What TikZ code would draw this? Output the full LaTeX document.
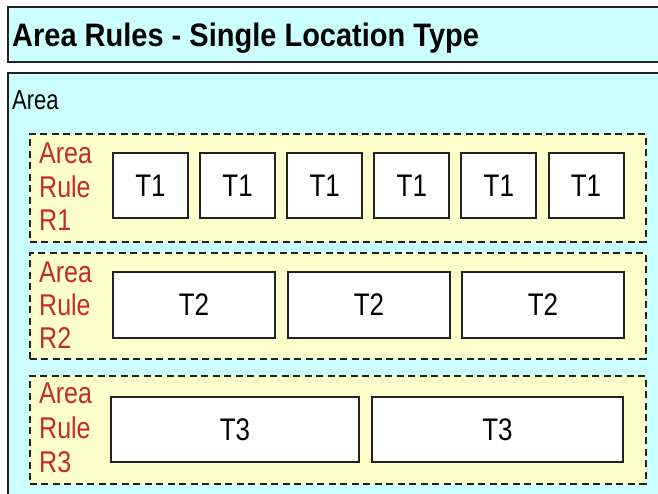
\documentclass[tikz,border=0pt]{standalone}
\usepackage{fontspec}
\setmainfont{Liberation Sans}
\definecolor{panelcyan}{RGB}{204,255,255}
\definecolor{rulefill}{RGB}{255,255,204}
\definecolor{rulered}{RGB}{200,40,40}
\definecolor{edge}{RGB}{34,34,34}
% text set slightly taller than its natural shape
\newcommand\talltext[2][1.2]{\scalebox{1}[#1]{#2}}
\begin{document}
\begin{tikzpicture}[x=1pt,y=-1pt,
  panel/.style={draw=edge,line width=2pt,fill=panelcyan},
  rulebox/.style={draw=edge,line width=1.8pt,fill=rulefill,
    dash pattern=on 7pt off 4.5pt,anchor=north west,inner sep=0pt},
  slot/.style={draw=edge,line width=2pt,fill=white,inner sep=0pt,
    font=\fontsize{26}{30}\selectfont},
  rulelabel/.style={text=rulered,font=\fontsize{25}{30}\selectfont,
    anchor=base west,inner sep=0pt},
]
\useasboundingbox (0,0) rectangle (658,494);
\clip (0,0) rectangle (658,494);
\fill[white] (0,0) rectangle (658,494);

% title bar
\draw[panel] (8,7) rectangle (680,62);
\node[anchor=base west,inner sep=0pt,font=\bfseries\fontsize{29}{32}\selectfont]
  (title) at (12,47) {\talltext[1.12]{Area Rules - Single Location Type}};

% area panel
\draw[panel] (8,73) rectangle (680,520);
\node[anchor=base west,inner sep=0pt,font=\fontsize{22}{26}\selectfont]
  (area) at (12,110) {\talltext[1.25]{Area}};

% rule frames
\node[rulebox,minimum width=616,minimum height=108] (r1) at (29,133) {};
\node[rulebox,minimum width=616,minimum height=106] (r2) at (29,252) {};
\node[rulebox,minimum width=616,minimum height=108] (r3) at (29,375) {};

% rule labels
\foreach \n/\ya/\yb/\yc in {1/164/198/231, 2/282/315/348, 3/403/438/472}{
  \node[rulelabel] (ra\n) at (39,\ya) {\talltext{Area}};
  \node[rulelabel] (rb\n) at (39,\yb) {\talltext{Rule}};
  \node[rulelabel] (rc\n) at (39,\yc) {\talltext{R\n}};
}

% rule R1: six T1 slots
\foreach \i/\x in {1/150.5, 2/237.6, 3/324.7, 4/411.8, 5/498.9, 6/586}{
  \node[slot,minimum width=75,minimum height=65] (ta\i) at (\x,185.5) {\talltext{T1}};
}
% rule R2: three T2 slots
\foreach \i/\x in {1/194, 2/369, 3/543}{
  \node[slot,minimum width=162,minimum height=66] (tb\i) at (\x,305) {\talltext{T2}};
}
% rule R3: two T3 slots
\node[slot,minimum width=248,minimum height=65] (tc1) at (235,429.5) {\talltext{T3}};
\node[slot,minimum width=251,minimum height=65] (tc2) at (497.5,429.5) {\talltext{T3}};
\end{tikzpicture}
\end{document}
